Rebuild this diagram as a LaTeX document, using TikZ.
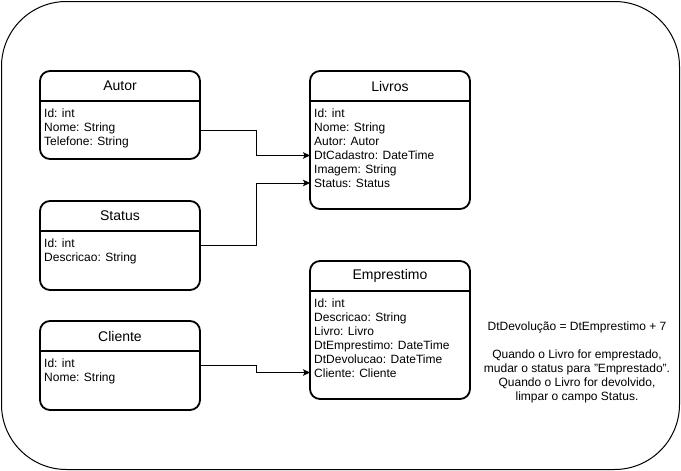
\documentclass[tikz,border=0pt]{standalone}
\usepackage{fontspec}
\setmainfont{Liberation Sans}
\usetikzlibrary{arrows.meta}
\begin{document}
\begin{tikzpicture}[x=1pt,y=-1pt,
  entity/.style={draw, line width=1.8pt, rounded corners=10pt, minimum width=160pt, minimum height=#1, inner sep=0pt, outer sep=0pt},
  header/.style={font=\fontsize{14}{16}\selectfont, inner sep=0pt},
  body/.style={font=\fontsize{12}{14}\selectfont, align=left, anchor=north west, inner sep=0pt},
  hline/.style={line width=1.8pt},
  conn/.style={line width=1pt, -{Stealth[length=7pt,width=6.5pt,inset=1.5pt]}},
  note/.style={font=\fontsize{12}{14}\selectfont, align=center, inner sep=0pt}]
\useasboundingbox (0,0) rectangle (681,471);
\draw[line width=1pt, rounded corners=65pt] (1.5,1.5) rectangle (679.5,469.5);

% Autor
\node[entity=88pt] (autor) at (120,115) {};
\draw[hline] (autor.west |- 0,101) -- (autor.east |- 0,101);
\node[header] (autorh) at (120,86) {Autor};
\node[body] (autorb) at (44,109) {Id: int\\Nome: String\\Telefone: String};

% Status
\node[entity=89pt] (status) at (120,245.5) {};
\draw[hline] (status.west |- 0,231) -- (status.east |- 0,231);
\node[header] (statush) at (120,216) {Status};
\node[body] (statusb) at (44,239) {Id: int\\Descricao: String};

% Cliente
\node[entity=89pt] (cliente) at (120,365.5) {};
\draw[hline] (cliente.west |- 0,351) -- (cliente.east |- 0,351);
\node[header] (clienteh) at (120,336) {Cliente};
\node[body] (clienteb) at (44,359) {Id: int\\Nome: String};

% Livros
\node[entity=138pt] (livros) at (390,140) {};
\draw[hline] (livros.west |- 0,101) -- (livros.east |- 0,101);
\node[header] (livrosh) at (390,86) {Livros};
\node[body] (livrosb) at (314,109) {Id: int\\Nome: String\\Autor: Autor\\DtCadastro: DateTime\\Imagem: String\\Status: Status};

% Emprestimo
\node[entity=138pt] (emp) at (390,330) {};
\draw[hline] (emp.west |- 0,291) -- (emp.east |- 0,291);
\node[header] (emph) at (390,276) {Emprestimo};
\node[body] (empb) at (314,299) {Id: int\\Descricao: String\\Livro: Livro\\DtEmprestimo: DateTime\\DtDevolucao: DateTime\\Cliente: Cliente};

% Connectors
\draw[conn] ([yshift=-15pt]autor.east) -- ++(56,0) |- ([yshift=-15.5pt]livros.west);
\draw[conn] (status.east) -- ++(56,0) |- ([yshift=-43pt]livros.west);
\draw[conn] (cliente.east) -- ++(56,0) |- ([yshift=-42.5pt]emp.west);

% Note
\node[note] (nota) at (577,362) {DtDevolução = DtEmprestimo + 7\\[14pt]Quando o Livro for emprestado,\\mudar o status para "Emprestado".\\Quando o Livro for devolvido,\\limpar o campo Status.};
\end{tikzpicture}
\end{document}
